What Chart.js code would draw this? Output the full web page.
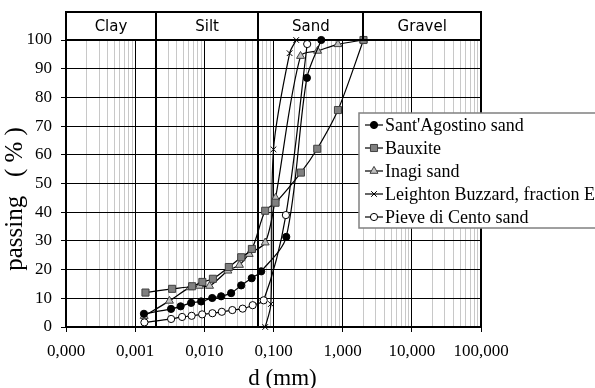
<!DOCTYPE html>
<html>
<head>
<meta charset="utf-8">
<script src="https://cdn.jsdelivr.net/npm/chart.js@4/dist/chart.umd.min.js"></script>
<style>
  html, body { margin: 0; padding: 0; background: #fff; }
  #wrap { width: 595px; height: 388px; }
</style>
</head>
<body>
<div id="wrap"><canvas id="grading" width="595" height="388"></canvas></div>
<script>
// Grain size distributions: particle diameter d (mm) and percent passing
const santAgostinoD = [0.00134, 0.0033, 0.00454, 0.00644, 0.00899, 0.013, 0.0175, 0.0244, 0.0341, 0.0484, 0.0664, 0.153, 0.304, 0.49];
const santAgostinoP = [4.6, 6.3, 7.2, 8.4, 8.9, 10.1, 10.7, 11.8, 14.5, 17.0, 19.4, 31.4, 86.8, 100];

const bauxiteD = [0.00141, 0.00342, 0.00665, 0.00937, 0.0133, 0.0226, 0.0341, 0.0487, 0.0759, 0.107, 0.249, 0.429, 0.855, 2.0];
const bauxiteP = [12.0, 13.3, 14.2, 15.7, 16.8, 20.9, 24.3, 27.2, 40.5, 43.3, 53.8, 62.1, 75.6, 100];

const inagiD = [0.00135, 0.00313, 0.00623, 0.0085, 0.0119, 0.0219, 0.0322, 0.0445, 0.0759, 0.107, 0.246, 0.434, 0.855, 2.0];
const inagiP = [3.8, 9.1, 13.8, 14.3, 14.3, 19.6, 21.6, 25.4, 29.4, 45.0, 94.4, 96.2, 98.5, 100];

const leightonD = [0.0759, 0.0917, 0.100, 0.171, 0.213];
const leightonP = [0, 8, 61.9, 95.4, 100];

const pieveD = [0.00136, 0.00331, 0.00477, 0.00655, 0.0093, 0.0131, 0.0179, 0.0254, 0.0358, 0.050, 0.0721, 0.151, 0.307];
const pieveP = [1.6, 2.8, 3.5, 3.9, 4.4, 4.8, 5.3, 5.9, 6.4, 7.6, 9.3, 39.0, 98.6];

const seriesNames = ["Sant'Agostino sand", 'Bauxite', 'Inagi sand', 'Leighton Buzzard, fraction E', 'Pieve di Cento sand'];

// Soil classes along the diameter axis and the limits between them (mm)
const soilClasses = ['Clay', 'Silt', 'Sand', 'Gravel'];
const soilLimits = [0.002, 0.06, 2];

// Decade tick values and their labels
const decadeValues = [0.0001, 0.001, 0.01, 0.1, 1, 10, 100];
const decadeLabels = ['0,000', '0,001', '0,010', '0,100', '1,000', '10,000', '100,000'];

const xTitle = 'd (mm)';
const yTitle = 'passing   ( % )';

const SERIF = '"Liberation Serif", "Times New Roman", serif';
const SANS = '"DejaVu Sans", Verdana, sans-serif';

function pairs(xs, ys) { return xs.map((x, i) => ({ x: x, y: ys[i] })); }

function isDecade(v) {
  const l = Math.log10(v);
  return Math.abs(l - Math.round(l)) < 1e-6;
}

// Log grid: 1..9 for every decade between the axis limits
const logGridValues = [];
decadeValues.forEach((d, i) => {
  if (i === decadeValues.length - 1) { logGridValues.push(d); return; }
  for (let m = 1; m <= 9; m++) logGridValues.push(+(d * m).toPrecision(6));
});

const styles = [
  { pointStyle: 'circle', radius: 3.6, bg: '#000000', border: '#000000' },
  { pointStyle: 'rect', radius: 5, bg: '#808080', border: '#404040' },
  { pointStyle: 'triangle', radius: 4.6, bg: '#c0c0c0', border: '#404040' },
  { pointStyle: 'crossRot', radius: 4, bg: '#000000', border: '#000000' },
  { pointStyle: 'circle', radius: 3.6, bg: '#ffffff', border: '#000000' }
];
const seriesData = [
  pairs(santAgostinoD, santAgostinoP),
  pairs(bauxiteD, bauxiteP),
  pairs(inagiD, inagiP),
  pairs(leightonD, leightonP),
  pairs(pieveD, pieveP)
];

const datasets = seriesData.map((data, i) => ({
  label: seriesNames[i],
  data: data,
  showLine: true,
  tension: 0.3,
  borderColor: '#000000',
  borderWidth: 1.2,
  pointStyle: styles[i].pointStyle,
  pointRadius: styles[i].radius,
  pointBackgroundColor: styles[i].bg,
  pointBorderColor: styles[i].border,
  pointBorderWidth: 1,
  clip: false
}));

function drawMarker(ctx, style, x, y) {
  const r = style.radius;
  ctx.save();
  ctx.fillStyle = style.bg;
  ctx.strokeStyle = style.border;
  ctx.lineWidth = 1;
  ctx.beginPath();
  if (style.pointStyle === 'circle') {
    ctx.arc(x, y, r, 0, Math.PI * 2);
    ctx.fill(); ctx.stroke();
  } else if (style.pointStyle === 'rect') {
    const s = r * Math.SQRT1_2;
    ctx.rect(x - s, y - s, 2 * s, 2 * s);
    ctx.fill(); ctx.stroke();
  } else if (style.pointStyle === 'triangle') {
    const a = Math.PI * 2 / 3;
    ctx.moveTo(x, y - r);
    ctx.lineTo(x + Math.sin(a) * r, y - Math.cos(a) * r);
    ctx.lineTo(x - Math.sin(a) * r, y - Math.cos(a) * r);
    ctx.closePath();
    ctx.fill(); ctx.stroke();
  } else if (style.pointStyle === 'crossRot') {
    const s = r * Math.SQRT1_2;
    ctx.moveTo(x - s, y - s); ctx.lineTo(x + s, y + s);
    ctx.moveTo(x + s, y - s); ctx.lineTo(x - s, y + s);
    ctx.stroke();
  }
  ctx.restore();
}

// Soil class band above the plot, class limit lines, axis titles and boxed legend
const soilBandPlugin = {
  id: 'soilBand',
  beforeDatasetsDraw(chart) {
    const { ctx, chartArea: a, scales: { x } } = chart;
    ctx.save();
    ctx.strokeStyle = '#000';
    ctx.lineWidth = 2;
    soilLimits.slice(0, 2).forEach(v => {
      const px = Math.round(x.getPixelForValue(v));
      ctx.beginPath(); ctx.moveTo(px, a.top); ctx.lineTo(px, a.bottom); ctx.stroke();
    });
    ctx.restore();
  },
  afterDraw(chart) {
    const { ctx, chartArea: a, scales: { x } } = chart;
    const bandTop = 12;
    ctx.save();
    ctx.strokeStyle = '#000';
    ctx.lineWidth = 2;
    // frame of band and plot
    ctx.beginPath();
    ctx.moveTo(a.left, a.top); ctx.lineTo(a.left, bandTop);
    ctx.lineTo(a.right, bandTop); ctx.lineTo(a.right, a.bottom);
    ctx.stroke();
    ctx.beginPath(); ctx.moveTo(a.left, a.top); ctx.lineTo(a.right, a.top); ctx.stroke();
    const edges = [x.min].concat(soilLimits, [x.max]);
    soilLimits.forEach(v => {
      const px = Math.round(x.getPixelForValue(v));
      ctx.beginPath(); ctx.moveTo(px, bandTop); ctx.lineTo(px, a.top); ctx.stroke();
    });
    ctx.fillStyle = '#000';
    ctx.font = '15px ' + SANS;
    ctx.textAlign = 'center';
    ctx.textBaseline = 'middle';
    soilClasses.forEach((name, i) => {
      const x0 = x.getPixelForValue(edges[i]);
      const x1 = x.getPixelForValue(edges[i + 1]);
      ctx.fillText(name, (x0 + x1) / 2, (bandTop + a.top) / 2 + 1);
    });

    // axis titles
    ctx.font = '23px ' + SERIF;
    ctx.textBaseline = 'alphabetic';
    ctx.fillText(xTitle, (a.left + a.right) / 2 + 9, 385);
    ctx.font = '25px ' + SERIF;
    ctx.save();
    ctx.translate(22, 199);
    ctx.rotate(-Math.PI / 2);
    ctx.fillText(yTitle, 0, 0);
    ctx.restore();

    // legend box
    const lx = 359, ly = 113, lw = 250, lh = 115;
    ctx.fillStyle = '#fff';
    ctx.fillRect(lx, ly, lw, lh);
    ctx.strokeStyle = '#808080';
    ctx.lineWidth = 1.5;
    ctx.strokeRect(lx, ly, lw, lh);
    ctx.font = '18px ' + SERIF;
    ctx.textAlign = 'left';
    ctx.textBaseline = 'middle';
    seriesNames.forEach((name, i) => {
      const y = ly + 12 + i * 23;
      ctx.strokeStyle = '#000';
      ctx.lineWidth = 1.2;
      ctx.beginPath(); ctx.moveTo(365, y); ctx.lineTo(383, y); ctx.stroke();
      drawMarker(ctx, styles[i], 374, y);
      ctx.fillStyle = '#000';
      ctx.fillText(name, 385, y + 1);
    });
    ctx.restore();
  }
};

new Chart(document.getElementById('grading'), {
  type: 'scatter',
  data: { datasets: datasets },
  options: {
    responsive: false,
    animation: false,
    devicePixelRatio: 1,
    layout: { padding: { top: 40, right: 114, left: 0, bottom: 0 } },
    plugins: { legend: { display: false }, tooltip: { enabled: false } },
    scales: {
      x: {
        type: 'logarithmic',
        position: 'bottom',
        min: 0.0001,
        max: 100,
        afterBuildTicks(scale) { scale.ticks = logGridValues.map(v => ({ value: v })); },
        afterFit(scale) { scale.height = 61; },
        ticks: {
          autoSkip: false,
          maxRotation: 0,
          padding: 9,
          color: '#000',
          font: { family: SERIF, size: 17 },
          callback(value) {
            const i = decadeValues.findIndex(d => Math.abs(d - value) / d < 1e-6);
            return i >= 0 ? decadeLabels[i] : '';
          }
        },
        grid: {
          color: ctx => (ctx.tick && isDecade(ctx.tick.value)) ? '#000' : '#c8c8c8',
          tickColor: ctx => (ctx.tick && isDecade(ctx.tick.value)) ? '#000' : 'rgba(0,0,0,0)',
          lineWidth: 1,
          tickLength: 5
        },
        border: { color: '#000', width: 2 }
      },
      y: {
        min: 0,
        max: 100,
        afterFit(scale) { scale.width = 66; },
        ticks: {
          stepSize: 10,
          padding: 9,
          color: '#000',
          font: { family: SERIF, size: 17 }
        },
        grid: { color: '#000', lineWidth: 1, tickLength: 5 },
        border: { color: '#000', width: 2 }
      }
    }
  },
  plugins: [soilBandPlugin]
});
</script>
</body>
</html>
